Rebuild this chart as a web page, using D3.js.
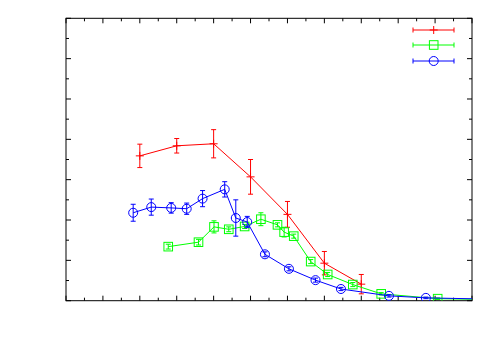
<!DOCTYPE html>
<html>
<head>
<meta charset="utf-8">
<script src="https://cdn.jsdelivr.net/npm/d3@7"></script>
<style>
  body { margin: 0; background: #fff; }
  svg { display: block; }
</style>
</head>
<body>
<div id="chart"></div>
<script>
let width = 500;
let height = 350;
let margin = {left: 66, right: 28, top: 18.3, bottom: 49.3};

// red series (plus markers)
let redX = [2, 3, 4, 5, 6, 7, 8];
let redY = [3.59, 3.84, 3.89, 3.07, 2.14, 0.93, 0.41];
let redErr = [0.29, 0.18, 0.35, 0.43, 0.32, 0.29, 0.24];

// green series (square markers), last point lies past the right border
let greenX = [2.77, 3.59, 4.01, 4.41, 4.84, 5.28, 5.73, 5.91, 6.17, 6.63, 7.09, 7.77, 8.54, 10.07, 12];
let greenY = [1.34, 1.45, 1.83, 1.77, 1.84, 2.02, 1.88, 1.70, 1.60, 0.97, 0.65, 0.40, 0.17, 0.05, 0.02];
let greenErr = [0.06, 0.07, 0.15, 0.06, 0.05, 0.16, 0.05, 0.12, 0.05, 0.05, 0.05, 0.05, 0.03, 0.02, 0.01];

// blue series (circle markers), last point lies past the right border
let blueX = [1.82, 2.31, 2.85, 3.27, 3.70, 4.30, 4.60, 4.91, 5.39, 6.04, 6.76, 7.45, 8.75, 9.75, 12];
let blueY = [2.18, 2.32, 2.30, 2.28, 2.53, 2.76, 2.05, 1.95, 1.15, 0.79, 0.51, 0.29, 0.12, 0.07, 0.03];
let blueErr = [0.21, 0.20, 0.13, 0.14, 0.20, 0.19, 0.45, 0.14, 0.06, 0.05, 0.05, 0.04, 0.03, 0.02, 0.01];

let xDomain = [0, 11];
let yDomain = [0, 7];

let x = d3.scaleLinear().domain(xDomain).range([margin.left, width - margin.right]);
let y = d3.scaleLinear().domain(yDomain).range([height - margin.bottom, margin.top]);

let svg = d3.select("#chart")
  .append("svg")
  .attr("width", width)
  .attr("height", height);

svg.append("defs").append("clipPath")
  .attr("id", "plot-clip")
  .append("rect")
  .attr("x", x(xDomain[0]))
  .attr("y", y(yDomain[1]))
  .attr("width", x(xDomain[1]) - x(xDomain[0]))
  .attr("height", y(yDomain[0]) - y(yDomain[1]));

// ticks on all four sides, pointing inwards
let ticks = svg.append("g").attr("stroke", "#000").attr("stroke-width", 1);
function tickSet(vals, len, axis) {
  vals.forEach(function(v) {
    if (axis === "x") {
      ticks.append("line").attr("x1", x(v)).attr("x2", x(v))
        .attr("y1", y(yDomain[0])).attr("y2", y(yDomain[0]) - len);
      ticks.append("line").attr("x1", x(v)).attr("x2", x(v))
        .attr("y1", y(yDomain[1])).attr("y2", y(yDomain[1]) + len);
    } else {
      ticks.append("line").attr("y1", y(v)).attr("y2", y(v))
        .attr("x1", x(xDomain[0])).attr("x2", x(xDomain[0]) + len);
      ticks.append("line").attr("y1", y(v)).attr("y2", y(v))
        .attr("x1", x(xDomain[1])).attr("x2", x(xDomain[1]) - len);
    }
  });
}
tickSet(d3.range(0, 11.01, 1), 5, "x");
tickSet(d3.range(0.5, 11, 1), 3, "x");
tickSet(d3.range(0, 7.01, 1), 5, "y");
tickSet(d3.range(0.5, 7, 1), 3, "y");

// border
svg.append("rect")
  .attr("x", x(xDomain[0]))
  .attr("y", y(yDomain[1]))
  .attr("width", x(xDomain[1]) - x(xDomain[0]))
  .attr("height", y(yDomain[0]) - y(yDomain[1]))
  .attr("fill", "none")
  .attr("stroke", "#000")
  .attr("stroke-width", 1);

let cap = 2.5;

function drawMarker(g, kind, cx, cy, color) {
  if (kind === "plus") {
    g.append("line").attr("x1", cx - 4).attr("x2", cx + 4).attr("y1", cy).attr("y2", cy)
      .attr("stroke", color);
    g.append("line").attr("x1", cx).attr("x2", cx).attr("y1", cy - 4).attr("y2", cy + 4)
      .attr("stroke", color);
  } else if (kind === "square") {
    g.append("rect").attr("x", cx - 4.3).attr("y", cy - 4.3).attr("width", 8.6).attr("height", 8.6)
      .attr("fill", "none").attr("stroke", color);
  } else {
    g.append("circle").attr("cx", cx).attr("cy", cy).attr("r", 4.5)
      .attr("fill", "none").attr("stroke", color);
  }
}

function drawSeries(xs, ys, errs, color, kind) {
  let g = svg.append("g").attr("clip-path", "url(#plot-clip)");
  let pts = xs.map(function(d, i) { return {x: d, y: ys[i], e: errs[i]}; });
  let line = d3.line().x(function(d) { return x(d.x); }).y(function(d) { return y(d.y); });
  g.append("path").datum(pts).attr("d", line)
    .attr("fill", "none").attr("stroke", color).attr("stroke-width", 1);
  pts.forEach(function(d) {
    let cx = x(d.x);
    let top = y(d.y + d.e);
    let bot = y(Math.max(d.y - d.e, 0));
    g.append("line").attr("x1", cx).attr("x2", cx).attr("y1", top).attr("y2", bot).attr("stroke", color);
    g.append("line").attr("x1", cx - cap).attr("x2", cx + cap).attr("y1", top).attr("y2", top).attr("stroke", color);
    g.append("line").attr("x1", cx - cap).attr("x2", cx + cap).attr("y1", bot).attr("y2", bot).attr("stroke", color);
    drawMarker(g, kind, cx, y(d.y), color);
  });
}

let red = "#ff0000";
let green = "#00ff00";
let blue = "#0000ff";

drawSeries(redX, redY, redErr, red, "plus");
drawSeries(greenX, greenY, greenErr, green, "square");
drawSeries(blueX, blueY, blueErr, blue, "circle");

// key in the top right corner (error bar style, no titles)
let legend = [
  {color: red, kind: "plus", y: 30},
  {color: green, kind: "square", y: 45},
  {color: blue, kind: "circle", y: 61}
];
let key = svg.append("g");
legend.forEach(function(d) {
  let x1 = 413, x2 = 454, cx = 433.7;
  key.append("line").attr("x1", x1).attr("x2", x2).attr("y1", d.y).attr("y2", d.y).attr("stroke", d.color);
  key.append("line").attr("x1", x1).attr("x2", x1).attr("y1", d.y - cap).attr("y2", d.y + cap).attr("stroke", d.color);
  key.append("line").attr("x1", x2).attr("x2", x2).attr("y1", d.y - cap).attr("y2", d.y + cap).attr("stroke", d.color);
  drawMarker(key, d.kind, cx, d.y, d.color);
});
</script>
</body>
</html>
